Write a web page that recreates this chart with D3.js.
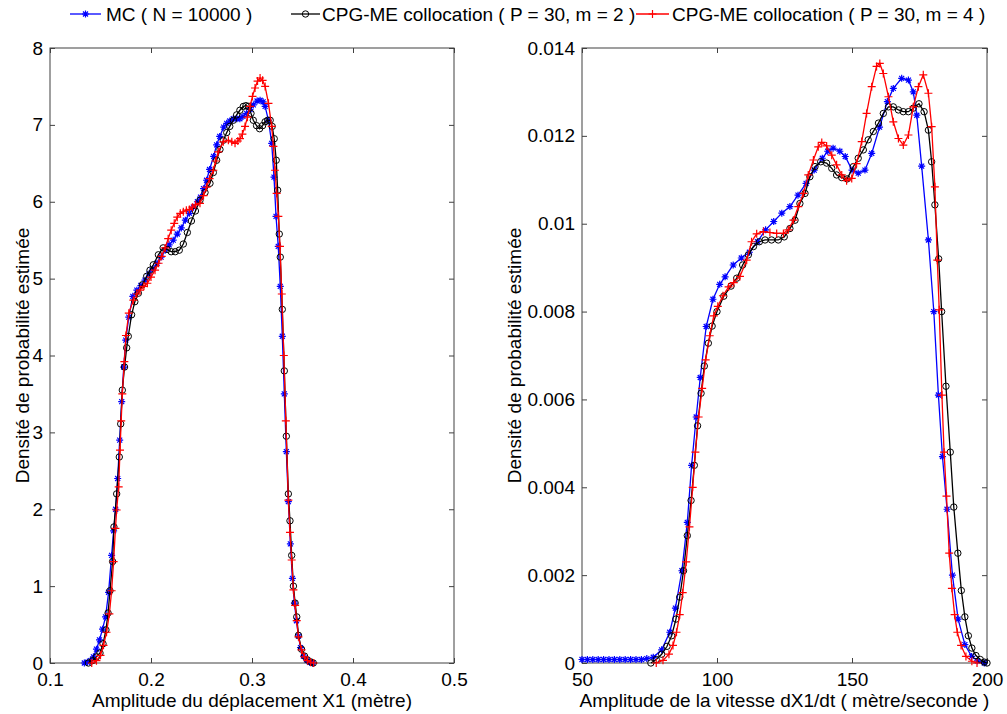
<!DOCTYPE html>
<html>
<head>
<meta charset="utf-8">
<script src="https://cdnjs.cloudflare.com/ajax/libs/d3/7.8.5/d3.min.js"></script>
<style>
  body { margin: 0; background: #fff; }
  text { font-family: "Liberation Sans", Arial, sans-serif; }
</style>
</head>
<body>
<div id="my_dataviz"></div>
<script>
// ---- data ----
// left panel : displacement X1 (m)
var mcX1 = [0.134,0.137,0.140,0.143,0.146,0.149,0.152,0.155,0.158,0.161,0.163,0.165,0.167,0.169,0.171,0.173,0.175,0.178,0.182,0.186,0.190,0.194,0.198,0.202,0.206,0.210,0.214,0.218,0.222,0.226,0.230,0.234,0.238,0.242,0.246,0.249,0.252,0.255,0.258,0.262,0.265,0.268,0.272,0.275,0.278,0.2815,0.285,0.288,0.291,0.2947,0.298,0.3013,0.305,0.308,0.311,0.313,0.3163,0.3195,0.3218,0.3238,0.326,0.328,0.330,0.332,0.334,0.336,0.338,0.340,0.342,0.344,0.346,0.348,0.351,0.354,0.357,0.360];
var mcY1 = [0,0.01,0.03,0.08,0.18,0.30,0.44,0.60,0.92,1.40,1.72,2.00,2.40,2.90,3.40,3.85,4.20,4.50,4.77,4.85,4.91,4.98,5.06,5.13,5.20,5.28,5.37,5.44,5.50,5.58,5.66,5.76,5.85,5.93,6.00,6.06,6.17,6.28,6.42,6.59,6.74,6.85,6.97,7.02,7.05,7.08,7.08,7.08,7.11,7.15,7.20,7.26,7.31,7.32,7.30,7.24,7.06,6.76,6.32,5.81,5.42,4.90,4.25,3.50,2.75,2.10,1.55,1.10,0.78,0.55,0.35,0.20,0.09,0.04,0.01,0];

var m2X1 = [0.138,0.142,0.146,0.1495,0.1525,0.1554,0.1575,0.1594,0.162,0.1633,0.166,0.1686,0.170,0.1716,0.1738,0.1759,0.1775,0.1808,0.184,0.1875,0.1915,0.1957,0.199,0.2023,0.2073,0.212,0.216,0.220,0.224,0.228,0.232,0.236,0.240,0.244,0.2485,0.2535,0.2584,0.2617,0.265,0.2683,0.2716,0.275,0.278,0.2815,0.2848,0.288,0.2914,0.294,0.2964,0.299,0.3013,0.3045,0.3075,0.3105,0.313,0.3155,0.318,0.320,0.322,0.324,0.3254,0.327,0.328,0.330,0.332,0.334,0.336,0.3376,0.3393,0.341,0.3427,0.3443,0.346,0.349,0.352,0.355,0.358,0.3607];
var m2Y1 = [0,0.03,0.08,0.13,0.25,0.43,0.65,0.94,1.32,1.77,2.20,2.68,3.11,3.55,3.85,4.10,4.25,4.53,4.70,4.81,4.92,5.03,5.11,5.18,5.31,5.40,5.38,5.35,5.35,5.37,5.45,5.60,5.75,5.88,6.02,6.12,6.24,6.38,6.54,6.68,6.80,6.90,6.98,7.06,7.13,7.19,7.24,7.25,7.24,7.15,7.06,6.99,6.95,6.99,7.04,7.06,7.06,6.98,6.82,6.54,6.15,5.58,5.28,4.60,3.80,2.95,2.20,1.85,1.40,1.00,0.78,0.60,0.36,0.18,0.09,0.04,0.015,0];

var m4X1 = [0.1413,0.146,0.150,0.153,0.156,0.1588,0.161,0.163,0.1648,0.166,0.168,0.1693,0.1705,0.1716,0.1736,0.1752,0.178,0.1825,0.186,0.1891,0.193,0.1964,0.200,0.204,0.2075,0.2106,0.214,0.217,0.220,0.223,0.226,0.229,0.232,0.235,0.238,0.241,0.244,0.2485,0.252,0.255,0.258,0.2617,0.264,0.2666,0.2716,0.2766,0.280,0.2832,0.286,0.2881,0.2905,0.2931,0.2955,0.298,0.3005,0.303,0.3055,0.308,0.3105,0.313,0.3163,0.3195,0.3212,0.3228,0.3244,0.3261,0.3277,0.3295,0.3315,0.3335,0.336,0.3376,0.3393,0.341,0.3427,0.3443,0.346,0.349,0.352,0.355,0.358,0.361];
var m4Y1 = [0,0.03,0.10,0.23,0.40,0.64,0.94,1.32,1.75,1.99,2.29,2.77,3.15,3.50,3.92,4.26,4.55,4.72,4.80,4.85,4.90,4.94,5.02,5.11,5.20,5.29,5.40,5.52,5.63,5.72,5.80,5.85,5.87,5.89,5.90,5.93,5.96,5.98,6.08,6.19,6.30,6.41,6.53,6.65,6.78,6.80,6.78,6.76,6.79,6.82,6.88,6.98,7.10,7.24,7.37,7.48,7.57,7.61,7.58,7.50,7.28,6.98,6.72,6.41,6.11,5.81,5.42,4.80,4.00,3.15,2.12,1.70,1.34,0.95,0.75,0.55,0.34,0.17,0.08,0.03,0.01,0];

// right panel : velocity dX1/dt (m/s)
var mcX2 = [50,52,54,56,58,60,62,64,66,68,70,72,74,76.4,79.5,82.5,84.6,87,89,90.6,92.3,93.8,96,98.5,101,103,106,109,112,115,118,121,124,127,130,133,136,139,141,143,145.5,147.5,150,152.3,154.8,157.3,160.2,163.1,165.3,168.4,170.9,172.7,174,175.8,178.3,180.3,182,183.5,185.2,187.2,189.3,191.8,194.3,196.5,199];
var mcY2 = [0.00008,0.00008,0.00008,0.00008,0.00008,0.00008,0.00008,0.00008,0.00008,0.00008,0.00008,0.00008,0.0001,0.00013,0.0003,0.0007,0.00125,0.0021,0.0032,0.0045,0.0056,0.0065,0.00766,0.00828,0.00862,0.00879,0.00906,0.00922,0.00935,0.00959,0.00986,0.01005,0.01024,0.01039,0.01065,0.01092,0.01122,0.01149,0.01165,0.01172,0.01165,0.01153,0.01122,0.01115,0.01122,0.0116,0.0122,0.01278,0.01308,0.01331,0.01327,0.013,0.01247,0.01131,0.00963,0.0080,0.0061,0.0047,0.0035,0.0020,0.0010,0.00042,0.00015,0.00005,0];

var m2X2 = [75.5,77.5,79.5,81.5,83.2,84.8,86.2,87.6,89,90.4,91.6,92.8,94.1,95.3,96.8,98.2,100,102.5,105.2,107.3,109.5,111.6,113.5,115.7,117.8,120.2,122.7,124.9,127,128.9,130.7,132.6,134.4,136.3,138.4,140.6,142.5,144.3,146.2,148.2,150.5,152.3,154.2,156,157.9,159.8,161.6,163.5,165.3,167.2,169,170.9,172.7,174.8,176.7,178.3,179.5,180.7,182.1,183.2,184.8,186.4,187.7,189.2,190.5,191.8,193.1,194.4,195.9,197.5,199,200];
var m2Y2 = [0,0.00008,0.0002,0.00038,0.00062,0.001,0.0015,0.0021,0.0029,0.0037,0.0045,0.0054,0.00614,0.00676,0.00728,0.00767,0.0080,0.00835,0.00858,0.00876,0.00906,0.00929,0.00948,0.00959,0.00963,0.00963,0.00963,0.0097,0.00989,0.01008,0.01046,0.01069,0.01107,0.0113,0.01141,0.01138,0.01126,0.01111,0.01105,0.01102,0.0113,0.01149,0.01168,0.01191,0.0121,0.01229,0.01251,0.01266,0.01266,0.01259,0.01255,0.01255,0.01263,0.01273,0.01255,0.01213,0.01141,0.01043,0.0092,0.0080,0.0063,0.0048,0.00355,0.0025,0.00165,0.00105,0.00062,0.00034,0.00017,0.00008,0.00002,0];

var m4X2 = [77.5,80,82.2,83.7,85,86.2,87.3,88.6,89.8,91,92,93.2,94.5,95.8,97.3,98.8,100.3,102.2,104.3,106.2,108.5,111,112.8,114.7,117.2,119.6,122.1,124.6,126.4,128.3,130.1,132,133.8,135.7,137.5,138.8,140.6,142.5,144.3,146.2,148,149.9,151.7,153.6,155.4,157.3,159.1,160.3,161.6,163.5,165.3,167.2,169,170.9,172.7,174.6,176.4,178.3,179.5,180.7,181.6,182.3,183.3,184.1,185,186,187,188,189,190.4,192.2,194.4,196.3];
var m4Y2 = [0,0.00006,0.0002,0.0004,0.0007,0.0011,0.0016,0.0023,0.0031,0.0040,0.0048,0.0056,0.00625,0.0069,0.00745,0.0079,0.00812,0.00836,0.00856,0.00866,0.0088,0.00917,0.00959,0.00977,0.00982,0.0098,0.00978,0.00978,0.00986,0.01008,0.01039,0.01069,0.01111,0.01145,0.01175,0.01185,0.01177,0.01156,0.01134,0.01111,0.01098,0.01103,0.01137,0.01187,0.01251,0.01312,0.01358,0.01365,0.01342,0.01289,0.01232,0.01194,0.01179,0.01202,0.01266,0.01312,0.01339,0.01297,0.01221,0.01084,0.00917,0.00804,0.0061,0.0048,0.0038,0.0025,0.0017,0.0011,0.0007,0.0004,0.00015,0.00004,0];

var xTicks1 = [0.1, 0.2, 0.3, 0.4, 0.5];
var yTicks1 = [0, 1, 2, 3, 4, 5, 6, 7, 8];
var xTicks2 = [50, 100, 150, 200];
var yTicks2 = [0, 0.002, 0.004, 0.006, 0.008, 0.01, 0.012, 0.014];

var legendLabels = ["MC ( N = 10000 )", "CPG-ME collocation ( P = 30, m = 2 )", "CPG-ME collocation ( P = 30, m = 4 )"];
var yLabel = "Densité de probabilité estimée";
var xLabel1 = "Amplitude du déplacement X1 (mètre)";
var xLabel2 = "Amplitude de la vitesse dX1/dt ( mètre/seconde )";

// ---- layout ----
var W = 1007, H = 714, plotTop = 48, plotBottom = 663;
var fontSize = 19;
var styles = [
    { color: "#0000ff", marker: "star" },
    { color: "#000000", marker: "circle" },
    { color: "#ff0000", marker: "plus" }
];

var svg = d3.select("#my_dataviz")
    .append("svg")
    .attr("width", W)
    .attr("height", H);

function zip(xs, ys) {
    return xs.map(function (v, i) { return [v, ys[i]]; });
}

function drawMarker(g, type, color) {
    if (type === "circle") {
        g.append("circle").attr("r", 3.2).attr("fill", "none")
            .attr("stroke", color).attr("stroke-width", 1);
    } else if (type === "plus") {
        g.append("path").attr("d", "M-4,0H4M0,-4V4")
            .attr("stroke", color).attr("stroke-width", 1.2).attr("fill", "none");
    } else {
        g.append("path").attr("d", "M-3.5,0H3.5M0,-3.5V3.5M-2.5,-2.5L2.5,2.5M-2.5,2.5L2.5,-2.5")
            .attr("stroke", color).attr("stroke-width", 1.2).attr("fill", "none");
    }
}

var panels = [
    { left: 50, right: 454, xDom: [0.1, 0.5], yDom: [0, 8], xTicks: xTicks1, yTicks: yTicks1,
      xLabel: xLabel1, yLabelX: 29,
      series: [zip(mcX1, mcY1), zip(m2X1, m2Y1), zip(m4X1, m4Y1)] },
    { left: 582, right: 987, xDom: [50, 200], yDom: [0, 0.014], xTicks: xTicks2, yTicks: yTicks2,
      xLabel: xLabel2, yLabelX: 521,
      series: [zip(mcX2, mcY2), zip(m2X2, m2Y2), zip(m4X2, m4Y2)] }
];

panels.forEach(function (p) {
    var x = d3.scaleLinear().domain(p.xDom).range([p.left, p.right]);
    var y = d3.scaleLinear().domain(p.yDom).range([plotBottom, plotTop]);
    var fmt = d3.format("~g");

    // box
    svg.append("rect")
        .attr("x", p.left).attr("y", plotTop)
        .attr("width", p.right - p.left).attr("height", plotBottom - plotTop)
        .attr("fill", "none").attr("stroke", "#404040").attr("stroke-width", 1);

    // axes, ticks pointing inside
    var axB = svg.append("g").attr("transform", "translate(0," + plotBottom + ")")
        .call(d3.axisBottom(x).tickValues(p.xTicks).tickSize(-5).tickPadding(10).tickFormat(fmt));
    var axT = svg.append("g").attr("transform", "translate(0," + plotTop + ")")
        .call(d3.axisTop(x).tickValues(p.xTicks).tickSize(-5).tickFormat(""));
    var axL = svg.append("g").attr("transform", "translate(" + p.left + ",0)")
        .call(d3.axisLeft(y).tickValues(p.yTicks).tickSize(-5).tickPadding(7).tickFormat(fmt));
    var axR = svg.append("g").attr("transform", "translate(" + p.right + ",0)")
        .call(d3.axisRight(y).tickValues(p.yTicks).tickSize(-5).tickFormat(""));
    [axB, axT, axL, axR].forEach(function (a) {
        a.select(".domain").remove();
        a.selectAll("line").attr("stroke", "#404040");
        a.selectAll("text").attr("fill", "#000").style("font-size", fontSize + "px")
            .style("font-family", '"Liberation Sans", Arial, sans-serif');
    });

    // curves
    var line = d3.line().x(function (d) { return x(d[0]); }).y(function (d) { return y(d[1]); });
    p.series.forEach(function (s, i) {
        var st = styles[i];
        svg.append("path").datum(s)
            .attr("d", line)
            .attr("fill", "none")
            .attr("stroke", st.color)
            .attr("stroke-width", 1.3);
        var mk = svg.append("g");
        s.forEach(function (d) {
            var g = mk.append("g").attr("transform", "translate(" + x(d[0]) + "," + y(d[1]) + ")");
            drawMarker(g, st.marker, st.color);
        });
    });

    // axis titles
    svg.append("text")
        .attr("x", (p.left + p.right) / 2).attr("y", 707)
        .attr("text-anchor", "middle")
        .style("font-size", fontSize + "px")
        .text(p.xLabel);
    svg.append("text")
        .attr("transform", "translate(" + p.yLabelX + "," + ((plotTop + plotBottom) / 2) + ") rotate(-90)")
        .attr("text-anchor", "middle")
        .style("font-size", fontSize + "px")
        .text(yLabel);
});

// legend across the top
var legendPos = [{ x0: 70, x1: 101, tx: 106 }, { x0: 291, x1: 320, tx: 322 }, { x0: 636, x1: 669, tx: 672 }];
var legY = 14;
legendLabels.forEach(function (lab, i) {
    var st = styles[i], lp = legendPos[i];
    svg.append("line")
        .attr("x1", lp.x0).attr("x2", lp.x1).attr("y1", legY).attr("y2", legY)
        .attr("stroke", st.color).attr("stroke-width", 1.3);
    var g = svg.append("g").attr("transform", "translate(" + ((lp.x0 + lp.x1) / 2) + "," + legY + ")");
    drawMarker(g, st.marker, st.color);
    svg.append("text")
        .attr("x", lp.tx).attr("y", legY + 7)
        .style("font-size", fontSize + "px")
        .text(lab);
});
</script>
</body>
</html>
